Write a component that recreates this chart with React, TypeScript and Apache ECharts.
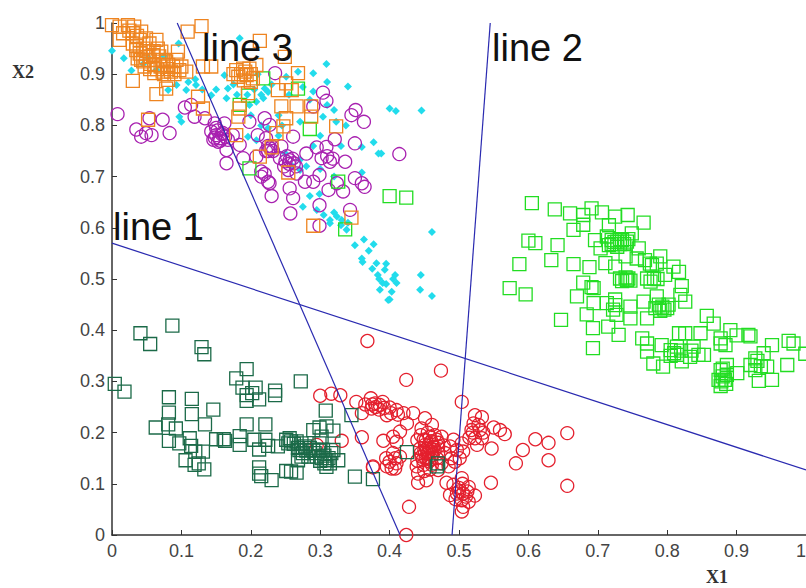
import React, { useEffect, useRef } from "react";
import * as echarts from "echarts";

type P = [number, number];

const xTicks = ["0", "0.1", "0.2", "0.3", "0.4", "0.5", "0.6", "0.7", "0.8", "0.9", "1"];

const cyanPoints: P[] = [
  [0,.946],[.017,.931],[.028,.907],[.096,.96],[.081,.869],[.093,.879],[.107,.869],[.121,.879],[.143,.859],[.097,.817],[.1,.807],
  [.162,.898],[.167,.872],[.165,.853],[.184,.97],[.22,.872],[.218,.853],[.208,.846],[.198,.84],[.268,.905],[.29,.902],[.29,.866],
  [.309,.92],[.31,.885],[.34,.876],[.304,.817],[.271,.807],[.337,.8],[.323,.807],[.377,.767],[.384,.745],[.388,.745],[.36,.708],
  [.36,.758],[.4,.833],[.409,.828],[.446,.829],[.461,.592],[.363,.577],[.377,.568],[.36,.54],[.285,.662],[.299,.666],[.275,.641],
  [.295,.635],[.314,.615],[.324,.622],[.331,.615],[.338,.596],[.314,.609],[.196,.778],[.208,.771],[.271,.733],[.271,.713],[.251,.895],
  [.064,.908],[.052,.932],[.361,.533],[.381,.531],[.393,.518],[.408,.508],[.39,.492],[.41,.492],[.445,.508],[.403,.475],[.386,.479],
  [.398,.459],[.444,.479],[.461,.467],[.383,.508],[.35,.566],[.225,.795],[.24,.78],[.25,.745],[.26,.72],[.195,.86],[.205,.87],[.23,.88],
  [.215,.86],[.225,.865],[.21,.9],[.175,.88],[.18,.86],[.12,.89],[.11,.885],[.13,.87],[.15,.87],[.255,.86],[.275,.875],[.285,.85],
  [.31,.84],[.32,.83],[.3,.78],[.29,.76],[.28,.72],[.3,.715],[.32,.7],[.33,.76],[.2,.82],[.215,.8],[.24,.82],[.245,.8],[.37,.555],
  [.385,.5],[.395,.49],[.4,.46],[.405,.5],[.395,.53],[.375,.52],[.33,.605],[.305,.625],[.32,.63],[.34,.61],[.045,.92],[.075,.935]
];

const magentaPoints: P[] = [
  [.008,.822],[.054,.814],[.073,.811],[.035,.792],[.042,.778],[.049,.785],[.057,.781],[.083,.785],[.105,.835],[.114,.84],[.119,.817],
  [.134,.814],[.148,.804],[.162,.804],[.143,.788],[.15,.781],[.16,.785],[.153,.768],[.167,.772],[.174,.781],[.184,.762],[.165,.752],
  [.165,.726],[.189,.736],[.198,.807],[.22,.814],[.227,.801],[.21,.781],[.222,.775],[.23,.759],[.215,.71],[.225,.69],[.227,.687],
  [.23,.662],[.208,.739],[.261,.778],[.244,.759],[.28,.745],[.256,.732],[.254,.713],[.242,.736],[.266,.706],[.278,.69],[.29,.69],
  [.299,.703],[.256,.677],[.261,.658],[.257,.628],[.299,.644],[.299,.604],[.343,.635],[.295,.757],[.309,.758],[.302,.736],[.314,.729],
  [.336,.729],[.312,.674],[.324,.687],[.333,.671],[.35,.697],[.36,.687],[.364,.68],[.35,.765],[.321,.773],[.345,.82],[.351,.83],
  [.363,.807],[.309,.848],[.304,.864],[.29,.837],[.235,.902],[.414,.744],[.155,.775],[.158,.783],[.152,.79],[.148,.776],[.225,.76],
  [.228,.755],[.222,.75],[.25,.73],[.255,.725],[.26,.735],[.248,.72],[.265,.72],[.31,.74],[.318,.735],[.215,.7],[.22,.705],
  [.146,.772],[.156,.77],[.163,.778],[.15,.795],[.225,.75],[.232,.75],[.252,.74],[.262,.726]
];

const greenPoints: P[] = [
  [.605,.648],[.638,.636],[.66,.628],[.679,.625],[.691,.638],[.706,.63],[.725,.622],[.743,.625],[.766,.61],[.665,.596],[.679,.606],
  [.6,.575],[.61,.57],[.642,.566],[.587,.529],[.633,.537],[.665,.529],[.688,.523],[.573,.482],[.596,.47],[.679,.493],[.691,.484],
  [.694,.482],[.67,.466],[.647,.42],[.684,.431],[.694,.453],[.693,.404],[.693,.365],[.715,.407],[.73,.391],[.696,.576],[.704,.56],
  [.716,.605],[.713,.583],[.72,.576],[.728,.573],[.735,.576],[.742,.573],[.749,.589],[.716,.566],[.728,.563],[.759,.56],[.74,.544],
  [.711,.531],[.725,.524],[.756,.54],[.768,.537],[.79,.544],[.778,.527],[.732,.501],[.742,.498],[.744,.501],[.771,.501],[.781,.501],
  [.797,.508],[.817,.514],[.809,.524],[.821,.486],[.766,.456],[.785,.466],[.783,.443],[.793,.446],[.8,.443],[.819,.469],[.826,.456],
  [.713,.453],[.725,.449],[.747,.446],[.727,.43],[.747,.423],[.771,.423],[.764,.384],[.771,.374],[.771,.358],[.78,.335],[.794,.329],
  [.792,.371],[.805,.361],[.814,.368],[.814,.352],[.821,.339],[.826,.394],[.817,.394],[.838,.368],[.833,.348],[.853,.352],[.857,.428],
  [.867,.413],[.891,.4],[.877,.374],[.884,.371],[.917,.391],[.92,.388],[.951,.371],[.975,.379],[.982,.374],[.999,.354],[.939,.355],
  [.927,.345],[.92,.332],[.927,.322],[.944,.329],[.932,.301],[.951,.303],[.973,.332],[.886,.332],[.901,.316],[.877,.322],[.886,.313],
  [.874,.303],[.883,.303],[.877,.291],[.845,.352],[.848,.394],[.877,.384],[.724,.572],[.732,.578],[.738,.568],
  [.72,.568],[.732,.568],[.744,.578],[.735,.496],[.74,.503],[.747,.497],[.776,.495],[.786,.5],[.775,.53],[.785,.53],[.788,.45],[.796,.44],
  [.79,.438],[.802,.45],[.81,.355],[.805,.35],[.82,.36],[.835,.36],[.88,.31],[.878,.3],[.885,.295],[.88,.325],[.93,.34],[.935,.33],[.9,.39],[.725,.46],[.722,.44],
  [.285,.793],[.326,.69],[.4,.662],[.424,.659],[.336,.597],[.198,.716],[.268,.872],[.196,.858],[.184,.84],[.218,.892]
];

const orangePoints: P[] = [
  [0,.996],[.011,.993],[.023,.996],[.032,.993],[.016,.98],[.011,.967],[.03,.98],[.042,.983],[.03,.96],[.04,.967],[.049,.97],[.035,.947],
  [.045,.95],[.054,.96],[.064,.967],[.066,.95],[.037,.931],[.049,.934],[.059,.937],[.071,.944],[.073,.928],[.047,.915],[.061,.918],
  [.081,.918],[.093,.928],[.095,.944],[.097,.908],[.085,.905],[.073,.905],[.061,.902],[.107,.905],[.03,.887],[.081,.889],[.064,.861],
  [.078,.872],[.042,.928],[.054,.928],[.109,.983],[.129,.994],[.143,.915],[.131,.915],[.213,.965],[.179,.908],[.189,.911],[.198,.911],
  [.208,.918],[.182,.895],[.194,.898],[.203,.892],[.249,.934],[.196,.863],[.239,.869],[.268,.902],[.251,.882],[.259,.869],[.124,.856],
  [.131,.833],[.184,.833],[.182,.817],[.244,.837],[.266,.837],[.287,.837],[.287,.817],[.251,.814],[.247,.798],[.323,.798],[.052,.811],
  [.179,.781],[.23,.757],[.213,.739],[.254,.708],[.237,.785],[.345,.62],[.29,.604],
  [.035,.955],[.04,.94],[.05,.945],[.045,.925],[.055,.92],[.06,.945],[.068,.935],[.07,.915],[.078,.925],[.08,.91],[.088,.915],[.09,.9],
  [.055,.91],[.065,.91],[.1,.915],[.075,.9],[.186,.9],[.192,.905],[.2,.9],[.19,.888],[.2,.885],[.175,.9],[.025,.985],[.036,.975]
];

const redPoints: P[] = [
  [.368,.379],[.474,.321],[.424,.303],[.504,.26],[.3,.272],[.316,.276],[.329,.273],[.352,.26],[.373,.267],[.379,.257],[.386,.254],
  [.374,.247],[.36,.238],[.396,.234],[.4,.249],[.41,.244],[.42,.238],[.434,.238],[.425,.218],[.451,.228],[.461,.215],[.446,.208],
  [.415,.202],[.405,.192],[.391,.184],[.41,.182],[.36,.191],[.331,.184],[.449,.186],[.458,.192],[.468,.186],[.475,.192],[.444,.169],
  [.451,.176],[.461,.176],[.47,.173],[.456,.163],[.451,.16],[.461,.156],[.465,.166],[.446,.153],[.456,.15],[.468,.15],[.439,.134],
  [.449,.137],[.461,.137],[.47,.127],[.441,.12],[.441,.102],[.453,.107],[.482,.102],[.492,.186],[.504,.179],[.487,.173],[.497,.166],
  [.506,.163],[.489,.15],[.501,.15],[.485,.134],[.494,.143],[.523,.234],[.533,.23],[.521,.218],[.53,.205],[.518,.205],[.523,.189],
  [.533,.189],[.526,.176],[.547,.169],[.55,.21],[.559,.205],[.566,.197],[.61,.187],[.629,.18],[.592,.166],[.582,.14],[.629,.146],
  [.656,.199],[.656,.096],[.546,.102],[.504,.111],[.514,.094],[.492,.098],[.487,.078],[.506,.081],[.497,.081],[.504,.068],[.523,.077],
  [.514,.065],[.506,.055],[.504,.046],[.428,.055],[.424,0],[.405,.16],[.415,.153],[.4,.143],[.41,.14],[.396,.134],[.376,.134],[.403,.13],
  [.376,.132],[.295,.176],[.453,.168],[.458,.17],[.455,.158],[.46,.162],[.45,.165],[.463,.172],[.448,.147],[.457,.144],[.5,.085],[.51,.075],
  [.38,.25],[.385,.245],[.39,.26],[.375,.255],[.392,.248],[.402,.238],[.412,.235],[.365,.255],[.445,.195],[.455,.2],[.465,.195],[.44,.185],
  [.452,.185],[.46,.183],[.47,.18],[.478,.175],[.48,.16],[.445,.16],[.452,.15],[.46,.148],[.47,.16],[.44,.145],[.475,.14],[.458,.128],[.45,.125],
  [.52,.2],[.528,.215],[.515,.19],[.535,.2],[.5,.092],[.505,.1],[.495,.07],[.512,.085],[.408,.15],[.395,.15],[.408,.13]
];

const darkGreenPoints: P[] = [
  [.087,.409],[.041,.394],[.055,.373],[.129,.367],[.133,.353],[.004,.295],[.018,.28],[.194,.324],[.179,.306],[.188,.288],[.207,.288],
  [.235,.282],[.235,.273],[.194,.273],[.202,.277],[.212,.265],[.194,.262],[.272,.3],[.082,.269],[.115,.266],[.146,.245],[.082,.239],
  [.115,.236],[.081,.216],[.063,.21],[.092,.208],[.134,.216],[.194,.216],[.221,.216],[.308,.243],[.082,.184],[.097,.179],[.112,.189],
  [.114,.174],[.12,.163],[.131,.163],[.106,.146],[.119,.137],[.125,.14],[.133,.128],[.15,.187],[.161,.187],[.163,.184],[.184,.193],
  [.184,.176],[.205,.186],[.221,.186],[.212,.167],[.225,.174],[.239,.173],[.212,.132],[.212,.12],[.215,.115],[.23,.107],[.251,.125],
  [.258,.124],[.266,.122],[.251,.186],[.256,.189],[.254,.179],[.258,.183],[.266,.183],[.273,.179],[.27,.166],[.278,.173],[.29,.166],
  [.273,.153],[.283,.153],[.268,.146],[.29,.205],[.299,.21],[.309,.212],[.319,.204],[.302,.192],[.299,.179],[.295,.153],[.302,.15],
  [.309,.146],[.309,.133],[.316,.16],[.326,.146],[.319,.166],[.304,.166],[.345,.234],[.35,.114],[.376,.109],[.425,.162],[.47,.14],[.468,.134],
  [.28,.165],[.285,.17],[.275,.16],[.292,.16],[.298,.165],[.306,.155],[.312,.15],[.306,.14],[.3,.145],[.314,.14],[.262,.178],[.268,.17]
];

const line1: P[] = [[0, .57], [1, .127]];
const line2: P[] = [[.49, 0], [.545, 1]];
const line3: P[] = [[.094, 1], [.415, 0]];

const textLabels = ["line 1", "line 2", "line 3", "X1", "X2"];

function markers(name: string, data: P[], symbol: string, size: number, color: string, filled = false) {
  return {
    name,
    type: "scatter",
    data,
    symbol,
    symbolSize: size,
    clip: false,
    silent: true,
    itemStyle: filled
      ? { color, borderWidth: 0, opacity: 1 }
      : { color: "rgba(0,0,0,0)", borderColor: color, borderWidth: 1.3, opacity: 1 },
  };
}

function guide(name: string, data: P[]) {
  return {
    name,
    type: "line",
    data,
    symbol: "none",
    silent: true,
    clip: false,
    lineStyle: { color: "#2a2ab0", width: 1.2 },
  };
}

function axisOf(alignLast?: string) {
  const axisColor = "#333333";
  return {
    type: "value",
    min: 0,
    max: 1,
    interval: 0.1,
    splitLine: { show: false },
    axisLine: { show: true, onZero: false, lineStyle: { color: axisColor, width: 1.5 } },
    axisTick: { show: true, inside: true, length: 5, lineStyle: { color: axisColor, width: 1 } },
    axisLabel: {
      color: "#444444",
      fontFamily: "Liberation Sans",
      fontSize: 18,
      margin: 7,
      hideOverlap: false,
      showMinLabel: true,
      showMaxLabel: true,
      alignMaxLabel: alignLast,
      formatter: (_: number, i: number) => xTicks[i],
    },
  };
}

export default function App() {
  const ref = useRef<HTMLDivElement>(null);
  useEffect(() => {
    if (!ref.current) return;
    document.body.style.margin = "0";
    const chart = echarts.init(ref.current, undefined, { renderer: "svg" });
    const bigText = { fontFamily: "Liberation Sans", fontSize: 38, fill: "#111111" };
    const axisName = { fontFamily: "Liberation Serif", fontSize: 18, fontWeight: "bold", fill: "#333333" };
    chart.setOption({
      animation: false,
      backgroundColor: "#ffffff",
      grid: { left: 112, right: 0, top: 23, bottom: 53, containLabel: false, outerBoundsMode: "none" },
      xAxis: axisOf("right"),
      yAxis: axisOf(),
      series: [
        markers("cyan", cyanPoints, "diamond", 8, "#22dcec", true),
        markers("magenta", magentaPoints, "circle", 13, "#a821b0"),
        markers("green", greenPoints, "rect", 13, "#22dd22"),
        markers("orange", orangePoints, "rect", 13, "#ee8420"),
        markers("red", redPoints, "circle", 13, "#e4202e"),
        markers("darkGreen", darkGreenPoints, "rect", 13, "#1b6a48"),
        guide("line 1", line1),
        guide("line 2", line2),
        guide("line 3", line3),
      ],
      graphic: [
        { type: "text", x: 113, y: 208, z: 20, style: { text: textLabels[0], ...bigText } },
        { type: "text", x: 492, y: 29, z: 20, style: { text: textLabels[1], ...bigText } },
        { type: "text", x: 202, y: 29, z: 20, style: { text: textLabels[2], ...bigText } },
        { type: "text", x: 706, y: 568, z: 20, style: { text: textLabels[3], ...axisName } },
        { type: "text", x: 12, y: 63, z: 20, style: { text: textLabels[4], ...axisName } },
      ],
    });
    return () => chart.dispose();
  }, []);
  return <div ref={ref} style={{ width: 806, height: 588, position: "absolute", left: 0, top: 0 }} />;
}
